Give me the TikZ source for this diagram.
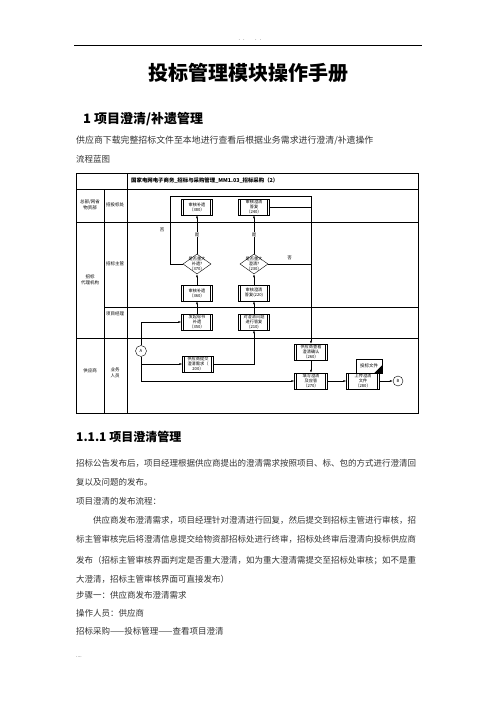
\documentclass[tikz,border=0pt]{standalone}
\usepackage{fontspec}
\setmainfont{Noto Sans CJK SC}
\usetikzlibrary{shapes.geometric,arrows.meta}

\tikzset{
  lanetxt/.style={font=\fontsize{4.5}{5.5}\selectfont, align=center, inner sep=0pt},
  proc/.style={draw, line width=0.4pt, fill=white, minimum width=31pt, minimum height=16pt,
    inner sep=0.3pt, align=center, font=\fontsize{4.2}{5}\selectfont,
    path picture={\draw[line width=0.3pt]
      ([xshift=2pt]path picture bounding box.north west) -- ([xshift=2pt]path picture bounding box.south west)
      ([xshift=-2pt]path picture bounding box.north east) -- ([xshift=-2pt]path picture bounding box.south east);}},
  dec/.style={draw, diamond, line width=0.4pt, fill=white, minimum width=28pt, minimum height=20pt, inner sep=0pt},
  dectxt/.style={font=\fontsize{4.2}{5}\selectfont, align=center},
  conn/.style={draw, circle, line width=0.4pt, minimum size=11pt, inner sep=0pt, font=\fontsize{4.2}{5}\selectfont},
  arr/.style={-{Latex[length=3pt,width=2pt]}, line width=0.4pt},
  body/.style={anchor=west, inner sep=0pt, text=black!80, font=\fontsize{8.5}{10}\selectfont},
}

\begin{document}
\begin{tikzpicture}[x=1pt,y=-1pt]
  \useasboundingbox (0,0) rectangle (496,702);
  % page head
  \node[inner sep=0pt, font=\fontsize{4}{5}\selectfont, text=black!60] (dots) at (250,41) {·\,·\qquad·\,·};
  \draw[line width=0.8pt] (74,45) -- (422,45);
  \node[inner sep=0pt, font=\fontsize{20}{22}\selectfont\bfseries] (title) at (248,73) {投标管理模块操作手册};
  \node[anchor=west, inner sep=0pt, font=\fontsize{13}{15}\selectfont\bfseries] (h1) at (83,119) {1 项目澄清/补遗管理};
  \node[body, font=\fontsize{8.9}{10}\selectfont] (p1) at (76,141) {供应商下载完整招标文件至本地进行查看后根据业务需求进行澄清/补遗操作};
  \node[body] (p2) at (76,159) {流程蓝图};

  % swimlanes
  \draw[line width=0.6pt] (76,173) rectangle (418,413);
  \draw[line width=0.5pt] (76,189) -- (418,189);
  \draw[line width=0.5pt] (76,222) -- (418,222);
  \draw[line width=0.5pt] (76,338) -- (418,338);
  \draw[line width=0.5pt] (104,307) -- (418,307);
  \draw[line width=0.9pt] (104,189) -- (104,413);
  \draw[line width=0.5pt] (127,173) -- (127,413);
  \node[anchor=west, inner sep=0pt, font=\fontsize{5.4}{6}\selectfont\bfseries] (chart) at (131,181)
    {国家电网电子商务\_招标与采购管理\_MM1.03\_招标采购（2）};
  \node[lanetxt] (zb) at (90,205) {总部/网省\\物资部};
  \node[lanetxt] (ztb) at (115,205) {招投标处};
  \node[lanetxt] (dl) at (90,280) {招标\\代理机构};
  \node[lanetxt] (zg) at (115,264) {招标主管};
  \node[lanetxt] (xm) at (115,314) {项目经理};
  \node[lanetxt] (gys) at (90,371) {供应商};
  \node[lanetxt] (yw) at (115,373) {业务\\人员};

  % steps
  \node[proc] (s380) at (197,207) {审核补遗\\（380）};
  \node[proc] (s240) at (254,207) {审核澄清\\答复\\（240）};
  \node[dec, label={[dectxt]center:是否重大\\补遗?\\（370）}] (s370) at (197,264) {};
  \node[dec, label={[dectxt]center:是否重大\\澄清?\\（230）}] (s230) at (254,264) {};
  \node[proc] (s360) at (197,293) {审核补遗\\（360）};
  \node[proc] (s220) at (254,293) {审核澄清\\答复(220)};
  \node[proc] (s350) at (197,322) {发起标书\\补遗\\（350）};
  \node[proc] (s210) at (254,322) {对澄清问题\\进行答复\\(210)};
  \node[conn] (A) at (141,351) {A};
  \node[proc] (s200) at (198,364) {供应商提交\\澄清需求（\\200）};
  \node[proc, minimum width=33pt] (s260) at (311,352) {供应商查看\\澄清确认\\（260）};
  \node[proc, minimum width=33pt] (s270) at (311,381) {填写澄清\\及应答\\（270）};
  \node[proc, minimum width=33pt] (s280) at (363,381) {上传澄清\\文件\\（280）};
  \node[draw, line width=0.4pt, fill=white, minimum width=26pt, minimum height=14pt, inner sep=0pt,
    font=\fontsize{4.5}{5}\selectfont] (doc) at (369,366) {投标文件};
  \fill (doc.south east) -- ++(-8,0) -- ++(8,-8) -- cycle;
  \node[conn, minimum size=10pt] (B) at (398,381) {B};
  \coordinate (j1) at (311,196);

  % flow
  \draw[arr] (A.north) |- (s350.west);
  \draw[arr] (A.south) |- (s200.west);
  \draw[arr] (A.south) |- (s270.west);
  \draw[arr] (s200.east) -| (s210.south);
  \draw[arr] (s210) -- (s220);
  \draw[arr] (s220) -- (s230);
  \draw[arr] (s230) -- node[fill=white, inner sep=0.5pt, font=\fontsize{4.5}{5}\selectfont] {是} (s240);
  \draw[arr] (s350) -- (s360);
  \draw[arr] (s360) -- (s370);
  \draw[arr] (s370) -- node[fill=white, inner sep=0.5pt, font=\fontsize{4.5}{5}\selectfont] {是} (s380);
  \draw[line width=0.4pt] (s370.west) -- (170,264) -- node[left=2pt, font=\fontsize{4.5}{5}\selectfont] {否} (170,196) -- (j1);
  \draw[line width=0.4pt] (s230.east) -- node[above=1pt, font=\fontsize{4.5}{5}\selectfont] {否} (311,264);
  \draw[line width=0.4pt] (s240.east) -- (311,207);
  \draw[arr] (j1) -- (s260.north);
  \draw[arr] (s260) -- (s270);
  \draw[arr] (s270) -- (s280);
  \draw[arr] (s280) -- (B);

  % text below
  \node[anchor=west, inner sep=0pt, font=\fontsize{12}{14}\selectfont\bfseries] (h2) at (76,437) {1.1.1 项目澄清管理};
  \node[body] (t1) at (76,463) {招标公告发布后，项目经理根据供应商提出的澄清需求按照项目、标、包的方式进行澄清回};
  \node[body] (t2) at (76,482) {复以及问题的发布。};
  \node[body] (t3) at (76,501) {项目澄清的发布流程：};
  \node[body] (t4) at (93,520) {供应商发布澄清需求，项目经理针对澄清进行回复，然后提交到招标主管进行审核，招};
  \node[body] (t5) at (76,539) {标主管审核完后将澄清信息提交给物资部招标处进行终审，招标处终审后澄清向投标供应商};
  \node[body] (t6) at (76,561) {发布（招标主管审核界面判定是否重大澄清，如为重大澄清需提交至招标处审核；如不是重};
  \node[body] (t7) at (76,579) {大澄清，招标主管审核界面可直接发布）};
  \node[body] (t8) at (76,595) {步骤一：供应商发布澄清需求};
  \node[body] (t9) at (76,613) {操作人员：供应商};
  \node[body] (t10) at (76,631) {招标采购——投标管理——查看项目澄清};
  \node[body, font=\fontsize{5}{6}\selectfont] (t11) at (76,657) {....};
\end{tikzpicture}
\end{document}
